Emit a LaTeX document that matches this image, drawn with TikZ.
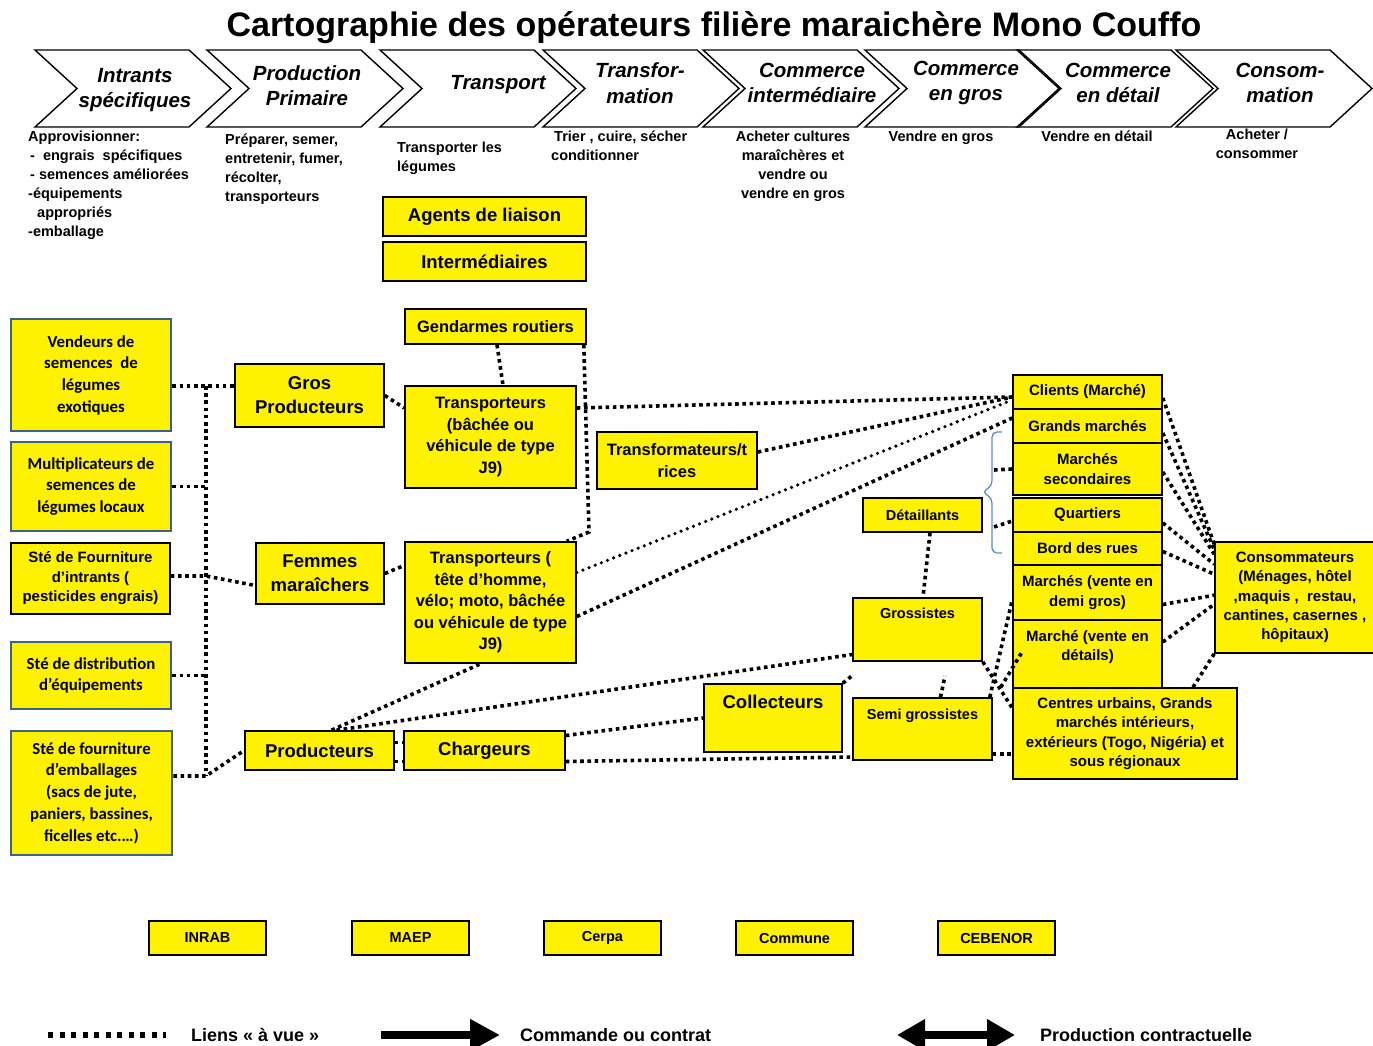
\documentclass[tikz,border=0pt]{standalone}
\usepackage{fontspec}
\setmainfont{Liberation Sans}
\newfontfamily\calfont{Carlito}
\usetikzlibrary{arrows.meta,calc}
\definecolor{boxblue}{RGB}{62,96,140}
\definecolor{braceblue}{RGB}{91,139,203}
\newcommand\myfs[2]{\fontsize{#1}{#2}\selectfont\bfseries}
\begin{document}
\begin{tikzpicture}[x=1pt,y=-1pt,
 ybox/.style={draw=black, line width=1.6pt, fill=yellow, align=center, inner sep=1pt},
 lbox/.style={ybox, draw=boxblue, line width=2.6pt, font=\calfont\myfs{16.8}{21.7}},
 dotl/.style={line width=3.6pt, dash pattern=on 3.6pt off 3.6pt},
 thind/.style={line width=3.6pt, line cap=round, dash pattern=on 0pt off 6.6pt},
 chev/.style={draw=black, line width=1.4pt, line join=miter},
 ctext/.style={font=\myfs{20.5}{25.5}\itshape, align=center, inner sep=0pt},
 dtext/.style={font=\myfs{14.5}{19}, inner sep=0pt},
 f185/.style={font=\myfs{18.5}{24}},
 f165/.style={font=\myfs{16.5}{21.6}},
 f15/.style={font=\myfs{15}{19.3}},
 f145/.style={font=\myfs{14.5}{19}},
 toplbl/.style={anchor=north, inner sep=0pt, align=center},
 legtxt/.style={font=\myfs{18}{22}, anchor=west, inner sep=0pt}]
\useasboundingbox (0,0) rectangle (1373,1046);

% title
\node[font=\myfs{34}{40}] (title) at (714,28) {Cartographie des opérateurs filière maraichère Mono Couffo};

% chevrons
\foreach \L in {35,207,380,543,703,865,1017,1176} {
  \draw[chev] (\L,50) -- ++(154,0) -- ++(42,38.5) -- ++(-42,38.5) -- ++(-154,0) -- ++(42,-38.5) -- cycle;
}
\node[ctext] (c1) at (135,90) {Intrants\\spécifiques};
\node[ctext] (c2) at (307,85.5) {Production\\Primaire};
\node[ctext] (c3) at (498,85) {Transport};
\node[ctext] (c4) at (640,83) {Transfor-\\mation};
\node[ctext] (c5) at (812,83) {Commerce\\intermédiaire};
\node[ctext] (c6) at (966,83) {Commerce\\en gros};
\node[ctext] (c7) at (1118,83) {Commerce\\en détail};
\node[ctext] (c8) at (1280,83) {Consom-\\mation};

% descriptions
\node[dtext, anchor=north west, align=left] (d1) at (28,131) {Approvisionner:\\\hspace*{2pt}-~~engrais~~spécifiques\\\hspace*{2pt}- semences améliorées\\-équipements\\\hspace*{9pt}appropriés\\-emballage};
\node[dtext, anchor=north west, align=left] (d2) at (225,134) {Préparer, semer,\\entretenir, fumer,\\récolter,\\transporteurs};
\node[dtext, anchor=north west, align=left] (d3) at (397,142) {Transporter les\\légumes};
\node[dtext, anchor=north west, align=left] (d4) at (551,131) {\hspace*{3pt}Trier , cuire, sécher\\conditionner};
\node[dtext, anchor=north, align=center] (d5) at (793,131) {Acheter cultures\\maraîchères et\\vendre ou\\vendre en gros};
\node[dtext, anchor=north] (d6) at (941,131) {Vendre en gros};
\node[dtext, anchor=north] (d7) at (1097,131) {Vendre en détail};
\node[dtext, anchor=north, align=center] (d8) at (1257,129) {Acheter /\\consommer};

% middle boxes
\node[ybox,f185,minimum width=203pt,minimum height=39pt] (agents) at (484.5,216.5) {Agents de liaison};
\node[ybox,f185,minimum width=203pt,minimum height=39pt] (interm) at (484.5,261.5) {Intermédiaires};
\node[ybox,f165,minimum width=181pt,minimum height=35pt] (gend) at (495.5,326.5) {Gendarmes routiers};
\node[ybox,f165,minimum width=171pt,minimum height=102pt] (tr1) at (490.5,437) {Transporteurs\\(bâchée ou\\véhicule de type\\J9)};
\node[ybox,f165,minimum width=160pt,minimum height=57pt] (transf) at (677,460.5) {Transformateurs/t\\rices};
\node[ybox,f165,minimum width=171pt,minimum height=121pt] (tr2) at (490.5,602.5) {Transporteurs (\\tête d’homme,\\vélo; moto, bâchée\\ou véhicule de type\\J9)};
\node[ybox,f185,minimum width=149pt,minimum height=63pt] (grosprod) at (309.5,395.5) {Gros\\Producteurs};
\node[ybox,f185,minimum width=128pt,minimum height=61pt] (femmes) at (320,573.5) {Femmes\\maraîchers};
\node[ybox,f185,minimum width=149pt,minimum height=39pt] (prod) at (319.5,750.5) {Producteurs};
\node[ybox,f185,minimum width=161pt,minimum height=39pt] (charg) at (484.5,750.5) {Chargeurs};
\node[ybox,minimum width=138pt,minimum height=68pt,label={[f185,toplbl,yshift=-12pt]north:Collecteurs}] (collect) at (773,718) {};
\node[ybox,minimum width=129pt,minimum height=63pt,label={[f145,toplbl,yshift=-11pt]north:Grossistes}] (gross) at (917.5,629.5) {};
\node[ybox,minimum width=139pt,minimum height=62pt,label={[f145,toplbl,yshift=-12pt]north:Semi grossistes}] (semi) at (922.5,729) {};
\node[ybox,f145,minimum width=119pt,minimum height=34pt] (detl) at (922.5,515) {Détaillants};

% right column
\node[ybox,f15,minimum width=149pt,minimum height=34pt] (cli) at (1087.5,392) {Clients (Marché)};
\node[ybox,f15,minimum width=149pt,minimum height=34pt] (gm) at (1087.5,426) {Grands marchés};
\node[ybox,f15,minimum width=149pt,minimum height=52pt] (ms) at (1087.5,469) {Marchés\\secondaires};
\node[ybox,f15,minimum width=149pt,minimum height=34pt] (qua) at (1087.5,515) {Quartiers};
\node[ybox,f15,minimum width=149pt,minimum height=33pt] (bord) at (1087.5,548.5) {Bord des rues};
\node[ybox,f15,minimum width=149pt,minimum height=55pt] (demi) at (1087.5,592.5) {Marchés (vente en\\demi gros)};
\node[ybox,minimum width=149pt,minimum height=68pt,label={[f15,toplbl,yshift=-11pt]north:Marché (vente en\\détails)}] (det) at (1087.5,654) {};
\node[ybox,f15,minimum width=224pt,minimum height=91pt] (centres) at (1125,733.5) {Centres urbains, Grands\\marchés intérieurs,\\extérieurs (Togo, Nigéria) et\\sous régionaux};
\node[ybox,f15,minimum width=160pt,minimum height=111pt] (cons) at (1295,597.5) {Consommateurs\\(Ménages, hôtel\\,maquis ,~ restau,\\cantines, casernes ,\\hôpitaux)};

% left boxes
\node[lbox,minimum width=160pt,minimum height=112pt] (vend) at (91,375) {Vendeurs de\\semences~ de\\légumes\\exotiques};
\node[lbox,minimum width=160pt,minimum height=89pt] (mult) at (91,486.5) {Multiplicateurs de\\semences de\\légumes locaux};
\node[ybox,font=\myfs{15}{19.5},minimum width=159pt,minimum height=71pt] (ste1) at (90.5,578.5) {Sté de Fourniture\\d’intrants (\\pesticides engrais)};
\node[lbox,minimum width=160pt,minimum height=67pt] (ste2) at (91,675.5) {Sté de distribution\\d’équipements};
\node[lbox,minimum width=161pt,minimum height=124pt] (ste3) at (91.5,793) {Sté de fourniture\\d’emballages\\(sacs de jute,\\paniers, bassines,\\ficelles etc.…)};

% bottom boxes
\node[ybox,f145,minimum width=117pt,minimum height=34pt] (inrab) at (207.5,938) {INRAB};
\node[ybox,f145,minimum width=117pt,minimum height=34pt] (maep) at (410.5,938) {MAEP};
\node[ybox,f145,minimum width=117pt,minimum height=34pt] (cerpa) at (602.5,938) {Cerpa};
\node[ybox,f145,minimum width=117pt,minimum height=34pt] (commune) at (794.5,938) {Commune};
\node[ybox,f145,minimum width=117pt,minimum height=34pt] (cebenor) at (996.5,938) {CEBENOR};

% brace
\draw[braceblue, line width=1.3pt, rounded corners=5pt] (1002,432) -- (992,432) -- (992,486) -- (982,492) -- (992,498) -- (992,553) -- (1002,553);
\coordinate (brA) at (994,470);
\coordinate (brB) at (994,527);

% left bus
\coordinate (busA) at (206,386);
\coordinate (busE) at (206,776);
\draw[dotl] (vend.east |- busA) -- (grosprod.west |- busA);
\draw[dotl] (busA) -- (busE);
\draw[dotl] (mult.east) -- (mult.east -| busA);
\draw[dotl] (ste1.east |- 0,576) -- (busA |- 0,576) -- ([yshift=-12pt]femmes.west);
\draw[dotl] (ste2.east) -- (ste2.east -| busA);
\draw[dotl] (ste3.east |- busE) -- (busE) -- (prod.west);

% producers to transport
\draw[dotl] (grosprod.east) -- ([yshift=29pt]tr1.west);
\draw[dotl] (femmes.east) -- ([yshift=37pt]tr2.west);
\draw[dotl] ([yshift=8pt]prod.east) -- ([yshift=8pt]charg.west);
\draw[dotl] ([yshift=-11pt]prod.east) -- ([yshift=-11pt]charg.west);
\draw[dotl] ([xshift=1.5pt]gend.south) -- ([xshift=12.5pt]tr1.north);
\coordinate (gk) at (589,532);
\draw[dotl] ([xshift=-3pt]gend.south east) -- (gk) -- ([xshift=-10pt]tr2.north east);

% to markets
\draw[dotl] ([yshift=29pt]tr1.east) -- ([yshift=-5pt]cli.west);
\draw[dotl] ([yshift=8.5pt]transf.east) -- ([yshift=-5pt]cli.west);
\draw[thind] ([yshift=30pt]tr2.east) -- ([yshift=-8pt]cli.west);
\draw[dotl] ([yshift=-14pt]tr2.east) -- ([yshift=8pt]gm.west);
\draw[dotl] (brA) -- (ms.west);
\draw[dotl] (brB) -- ([yshift=-6pt]qua.west);
\draw[dotl] ([xshift=7.5pt]detl.south) -- ([xshift=5.5pt]gross.north);

% lower network
\draw[dotl] ([xshift=12pt]prod.north) -- ([xshift=-10pt]tr2.south);
\draw[dotl] ([xshift=17pt]prod.north) -- ([yshift=-25pt]gross.west);
\draw[dotl] ([yshift=15pt]charg.east) -- (collect.west);
\draw[dotl] ([yshift=-11pt]charg.east) -- ([yshift=-28pt]semi.west);
\draw[dotl] ([yshift=-25pt]semi.east) -- ([yshift=-20.5pt]centres.west);
\coordinate (cstub) at (853,675);
\coordinate (sstub) at (945,676);
\coordinate (dstub) at (1022,652);
\draw[dotl] (collect.north east) -- (cstub);
\draw[dotl] ([xshift=18pt]semi.north) -- (sstub);
\draw[dotl] (gross.south east) -- ([yshift=25.5pt]centres.west);
\draw[dotl] ([xshift=-3pt]semi.north east) -- ([yshift=-7.5pt]demi.west);
\draw[dotl] ([xshift=8pt,yshift=10pt]semi.north east) -- (dstub);

% to consumers
\draw[dotl] ([yshift=-6pt]cli.east) -- ([yshift=-3pt]cons.north west);
\draw[dotl] ([yshift=-7pt]gm.east) -- ([yshift=-8pt]cons.north west);
\draw[dotl] ([yshift=-3pt]ms.east) -- ([yshift=-13pt]cons.north west);
\draw[dotl] ([yshift=-8pt]qua.east) -- ([yshift=-23pt]cons.north west);
\draw[dotl] ([yshift=-3pt]bord.east) -- ([yshift=-33pt]cons.north west);
\draw[dotl] ([yshift=-12pt]demi.east) -- ([yshift=-54pt]cons.north west);
\draw[dotl] ([yshift=12pt]det.east) -- ([yshift=-63pt]cons.north west);
\draw[dotl] ([xshift=68pt]centres.north) -- (cons.south west);

% legend
\coordinate (ld1) at (48,1035);
\coordinate (ld2) at (166,1035);
\draw[line width=6pt, dash pattern=on 5pt off 6.5pt] (ld1) -- (ld2);
\node[legtxt] (lt1) at (191,1035) {Liens « à vue »};
\coordinate (la1) at (381,1035);
\coordinate (la2) at (500,1035);
\draw[line width=8pt, -{Triangle[length=30pt,width=30pt]}] (la1) -- (la2);
\node[legtxt] (lt2) at (520,1035) {Commande ou contrat};
\coordinate (lb1) at (897,1035);
\coordinate (lb2) at (1015,1035);
\draw[line width=8pt, {Triangle[length=28pt,width=30pt]}-{Triangle[length=28pt,width=30pt]}] (lb1) -- (lb2);
\node[legtxt] (lt3) at (1040,1035) {Production contractuelle};
\end{tikzpicture}
\end{document}
